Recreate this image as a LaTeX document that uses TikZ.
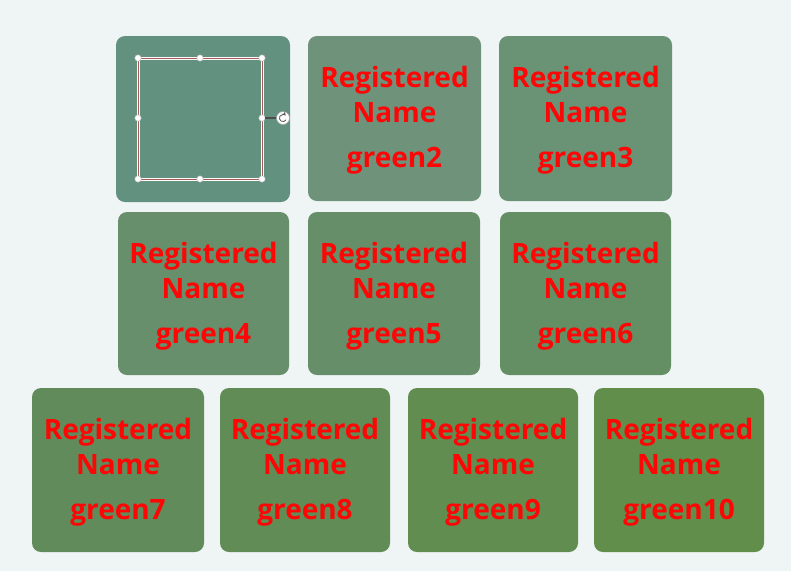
\documentclass[tikz,border=0pt]{standalone}
\usepackage{fontspec}
\setmainfont{Open Sans}
\definecolor{bg}{RGB}{239,245,245}
\definecolor{gA}{RGB}{98,145,128}
\definecolor{gB}{RGB}{110,146,122}
\definecolor{gC}{RGB}{106,146,116}
\definecolor{gD}{RGB}{103,143,108}
\definecolor{gE}{RGB}{102,142,104}
\definecolor{gF}{RGB}{100,143,100}
\definecolor{gG}{RGB}{97,139,90}
\definecolor{gH}{RGB}{97,140,86}
\definecolor{gI}{RGB}{97,141,80}
\definecolor{gJ}{RGB}{97,142,75}
\definecolor{txt}{RGB}{252,6,6}
\tikzset{
  x=1pt,y=-1pt,
  tile/.style={rounded corners=9pt},
  lbl/.style={text=txt,font=\fontsize{28}{32}\selectfont\bfseries,inner sep=0pt,anchor=base},
  handle/.style={circle,fill=white,draw=gray!60,line width=0.4pt,minimum size=6.5pt,inner sep=0pt},
}
\newcommand{\tile}[6]{% name, x0,y0,x1,y1,color
  \fill[#6,tile] (#2,#3) rectangle (#4,#5);
}
\begin{document}
\begin{tikzpicture}
\useasboundingbox (0,0) rectangle (791,571);
\fill[bg] (0,0) rectangle (791,571);
% row 1
\tile{t1}{116}{36}{290}{202}{gA}
\tile{t2}{308}{36}{481}{201}{gB}
\tile{t3}{499}{36}{672}{201}{gC}
% row 2
\tile{t4}{118}{212}{289}{375}{gD}
\tile{t5}{308}{212}{480}{375}{gE}
\tile{t6}{500}{212}{671}{375}{gF}
% row 3
\tile{t7}{32}{388}{204}{552}{gG}
\tile{t8}{220}{388}{390}{552}{gH}
\tile{t9}{408}{388}{578}{552}{gI}
\tile{t10}{594}{388}{764}{552}{gJ}
% texts
\foreach \n/\a/\b/\t/\g in {2/308/481/36/green2,3/499/672/36/green3,4/118/289/212/green4,5/308/480/212/green5,6/500/671/212/green6,7/32/204/388/green7,8/220/390/388/green8,9/408/578/388/green9,10/594/764/388/green10}{
  \node[lbl] (r\n) at ({(\a+\b)/2},\t+51) {Registered};
  \node[lbl] (m\n) at ({(\a+\b)/2},\t+86) {Name};
  \node[lbl] (g\n) at ({(\a+\b)/2},\t+131) {\g};
}
% selection frame in tile 1
\coordinate (s1) at (138,58);
\coordinate (s2) at (262,179);
\draw[white,line width=3pt] (s1) rectangle (s2);
\draw[gray!70!red,line width=0.8pt] (s1) rectangle (s2);
\foreach \p/\q [count=\i] in {138/58,200/58,262/58,138/118,262/118,138/179,200/179,262/179}{
  \node[handle] (h\i) at (\p,\q) {};
}
\node[circle,fill=white,draw=gray!70,line width=0.6pt,minimum size=13pt,inner sep=0pt] (rot) at (283,118) {};
\draw[gray!60!black,line width=1.2pt] (h5) -- (rot);
\draw[gray!70!black,line width=0.8pt,->,>=stealth] (rot.center) ++(3.12,1.8) arc (30:320:3.6);
\end{tikzpicture}
\end{document}
